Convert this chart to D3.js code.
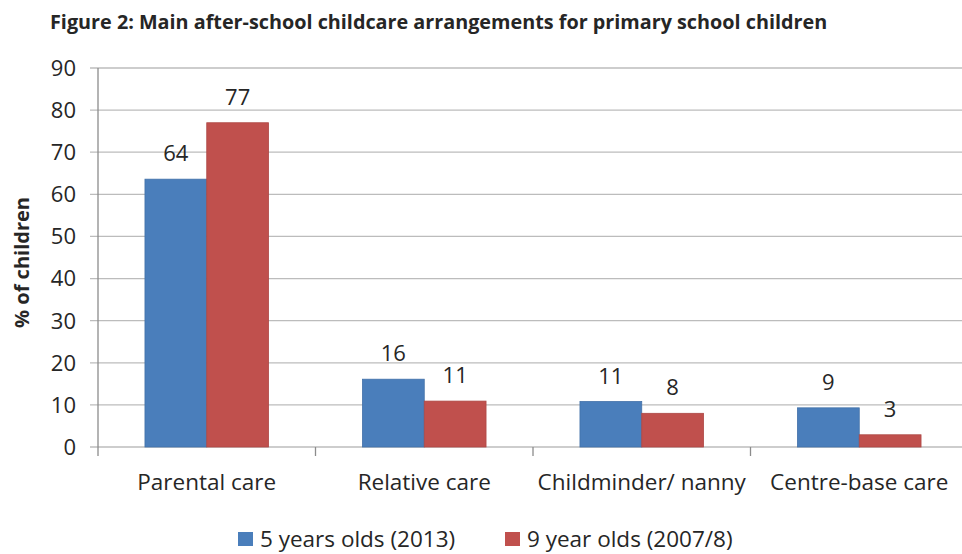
<!DOCTYPE html>
<html>
  <head>
    <script src="https://d3js.org/d3.v7.min.js"></script>
    <style>
      body { margin: 0; background: #fff; }
      text { font-family: "Open Sans", sans-serif; fill: #262626; }
      .grid line { stroke: #bcbcbc; stroke-width: 1.3px; }
    </style>
  </head>
  <body>
    <script>

var categories = ["Parental care", "Relative care", "Childminder/ nanny", "Centre-base care"];
var seriesNames = ["5 years olds (2013)", "9 year olds (2007/8)"];
var fiveYearOlds = [63.6, 16.1, 10.8, 9.3];
var nineYearOlds = [77.0, 10.9, 8.0, 2.9];
var yTicks = [0, 10, 20, 30, 40, 50, 60, 70, 80, 90];
var colors = ["#4a7ebb", "#c0504d"];

var width = 962,
    height = 554;

var svg = d3.select("body").append("svg")
    .attr("width", width)
    .attr("height", height);

var plotLeft = 98, plotRight = 968, plotTop = 68, plotBottom = 447;

var x = d3.scaleBand().domain(categories).range([plotLeft, plotRight]).paddingInner(0).paddingOuter(0);
var inner = d3.scaleBand().domain([0, 1]).range([0, x.bandwidth()]).paddingOuter(0.76).paddingInner(0);
var y = d3.scaleLinear().domain([0, 90]).range([plotBottom, plotTop]);

// title
svg.append("text")
    .attr("x", 50).attr("y", 29)
    .style("font-weight", "bold")
    .style("font-size", "19.8px")
    .text("Figure 2: Main after-school childcare arrangements for primary school children");

// gridlines
svg.append("g").attr("class", "grid")
  .selectAll("line").data(yTicks).enter().append("line")
    .attr("x1", 90).attr("x2", width)
    .attr("y1", function(d) { return y(d); })
    .attr("y2", function(d) { return y(d); });

// y tick labels
svg.append("g").selectAll("text").data(yTicks).enter().append("text")
    .attr("x", 76)
    .attr("y", function(d) { return y(d); })
    .attr("dy", "0.36em")
    .attr("text-anchor", "end")
    .style("font-size", "22px")
    .text(function(d) { return d; });

// y axis line
svg.append("line")
    .attr("x1", plotLeft).attr("x2", plotLeft)
    .attr("y1", plotTop).attr("y2", plotBottom + 9)
    .attr("stroke", "#8c8c8c").attr("stroke-width", 1.3);

// category tick marks
svg.append("g").selectAll("line").data(categories.slice(1)).enter().append("line")
    .attr("x1", function(d) { return x(d); })
    .attr("x2", function(d) { return x(d); })
    .attr("y1", plotBottom).attr("y2", plotBottom + 9)
    .attr("stroke", "#8c8c8c").attr("stroke-width", 1.3);

// y axis title
svg.append("text")
    .attr("transform", "translate(29," + ((plotTop + plotBottom) / 2 + 5) + ") rotate(-90)")
    .attr("text-anchor", "middle")
    .style("font-weight", "bold")
    .style("font-size", "20px")
    .text("% of children");

var series = [fiveYearOlds, nineYearOlds];

series.forEach(function(vals, si) {
  var g = svg.append("g");
  g.selectAll("rect").data(vals).enter().append("rect")
      .attr("x", function(d, i) { return x(categories[i]) + inner(si); })
      .attr("y", function(d) { return y(d); })
      .attr("width", inner.bandwidth())
      .attr("height", function(d) { return y(0) - y(d); })
      .attr("fill", colors[si])
      .attr("stroke", d3.color(colors[si]).darker(0.3))
      .attr("stroke-width", 0.8);

  g.selectAll("text").data(vals).enter().append("text")
      .attr("x", function(d, i) { return x(categories[i]) + inner(si) + inner.bandwidth() / 2; })
      .attr("y", function(d) { return y(d) - 18; })
      .attr("text-anchor", "middle")
      .style("font-size", "22px")
      .text(function(d) { return Math.round(d); });
});

// category labels
svg.append("g").selectAll("text").data(categories).enter().append("text")
    .attr("x", function(d) { return x(d) + x.bandwidth() / 2; })
    .attr("y", 490)
    .attr("text-anchor", "middle")
    .style("font-size", "22.5px")
    .text(function(d) { return d; });

// legend
var legendX = [238, 505];
var legend = svg.append("g").selectAll("g").data(seriesNames).enter().append("g")
    .attr("transform", function(d, i) { return "translate(" + legendX[i] + ",532)"; });
legend.append("rect")
    .attr("width", 15).attr("height", 14)
    .attr("fill", function(d, i) { return colors[i]; });
legend.append("text")
    .attr("x", 22).attr("y", 7).attr("dy", "0.36em")
    .style("font-size", "22.5px")
    .text(function(d) { return d; });

    </script>
  </body>
</html>
